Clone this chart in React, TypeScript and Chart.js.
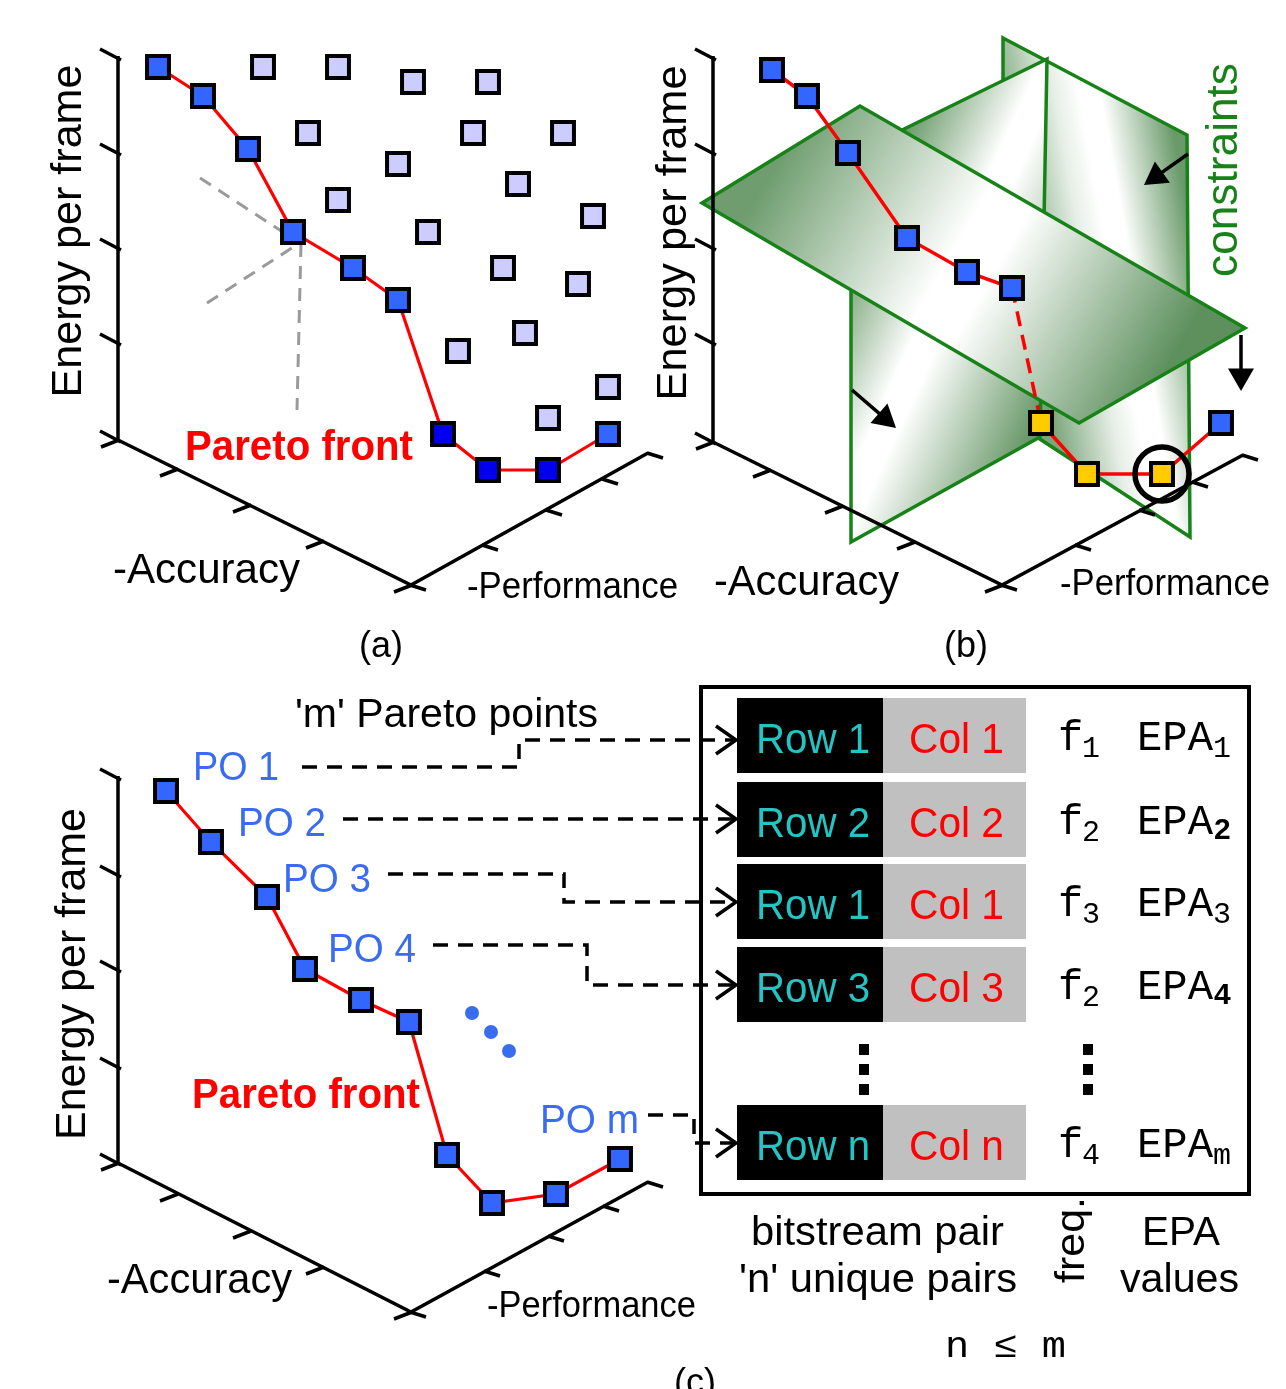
import React, { useEffect, useRef } from 'react';
import { Chart, registerables } from 'chart.js';

Chart.register(...registerables);

const W = 1286;
const H = 1389;
type P = [number, number];

// ---------- panel (a) ----------
const axesA: P[] = [[118, 56], [118, 440], [411, 585], [648, 453]];
const vTicksA: P[] = [[118, 58], [118, 153], [118, 248], [118, 343], [118, 440]];
const accTicksA: P[] = [[118, 440], [177, 469], [250, 505], [323, 541], [411, 585]];
const perfTicksA: P[] = [[411, 585], [483, 545], [547, 510], [603, 479], [648, 453]];
const paretoA: P[] = [[158, 67], [203, 96], [248, 149], [293, 232], [353, 268], [398, 300], [443, 434], [488, 470], [548, 470], [608, 434]];
const paretoAColors = ['#3366ff', '#3366ff', '#3366ff', '#3366ff', '#3366ff', '#3366ff', '#0000ee', '#0000ee', '#0000ee', '#3366ff'];
const dominatedA: P[] = [[263, 67], [338, 67], [413, 82], [488, 82], [308, 133], [473, 133], [563, 133], [398, 164], [518, 184], [338, 200], [593, 216], [428, 232], [503, 268], [578, 284], [525, 333], [458, 351], [608, 387], [548, 418]];
const guidesA: P[][] = [[[200, 178], [298, 242]], [[207, 303], [298, 244]], [[301, 244], [297, 410]]];

// ---------- panel (b) ----------
const axesB: P[] = [[713, 56], [713, 442], [1002, 585], [1243, 455]];
const vTicksB: P[] = [[713, 58], [713, 153], [713, 248], [713, 343], [713, 442]];
const accTicksB: P[] = [[713, 442], [770, 470], [842, 506], [914, 542], [1002, 585]];
const perfTicksB: P[] = [[1002, 585], [1076, 545], [1140, 510], [1193, 482], [1243, 455]];
const frontB1: P[] = [[772, 70], [807, 96], [848, 153], [907, 238], [967, 272], [1012, 288]];
const frontBDash: P[] = [[1012, 288], [1041, 423]];
const frontB2: P[] = [[1041, 423], [1087, 474], [1162, 474], [1221, 423]];
const blueB: P[] = [[772, 70], [807, 96], [848, 153], [907, 238], [967, 272], [1012, 288], [1221, 423]];
const yellowB: P[] = [[1041, 423], [1087, 474], [1162, 474]];
const chosenB: P[] = [[1162, 474]];
const wallR: P[] = [[1003, 38], [1187, 135], [1190, 537], [1003, 415]];
const wallL: P[] = [[851, 155], [1047, 59], [1040, 437], [851, 542]];
const tiltPlane: P[] = [[702, 203], [860, 106], [1245, 328], [1079, 423]];
const arrowsB: [P, P][] = [[[1188, 154], [1144, 185]], [[1241, 335], [1241, 391]], [[852, 390], [896, 428]]];

// ---------- panel (c) ----------
const axesC: P[] = [[118, 776], [118, 1163], [411, 1312], [648, 1182]];
const vTicksC: P[] = [[118, 778], [118, 875], [118, 970], [118, 1067], [118, 1163]];
const accTicksC: P[] = [[118, 1163], [177, 1194], [250, 1231], [323, 1267], [411, 1312]];
const perfTicksC: P[] = [[411, 1312], [485, 1271], [549, 1236], [604, 1206], [648, 1182]];
const paretoC: P[] = [[166, 791], [211, 842], [267, 897], [305, 969], [361, 1000], [409, 1022], [447, 1155], [492, 1203], [556, 1194], [620, 1159]];
const moreDotsC: P[] = [[472, 1013], [491, 1032], [509, 1051]];
const connectors: P[][] = [
  [[302, 767], [519, 767], [519, 740], [733, 740]],
  [[343, 819], [733, 819]],
  [[388, 874], [564, 874], [564, 902], [733, 902]],
  [[433, 945], [587, 945], [587, 985], [733, 985]],
  [[648, 1115], [694, 1115], [694, 1143], [733, 1143]],
];
const connectorTips: P[] = [[736, 740], [736, 819], [736, 902], [736, 985], [736, 1143]];
const rowLabels = ['Row 1', 'Row 2', 'Row 1', 'Row 3', 'Row n'];
const colLabels = ['Col 1', 'Col 2', 'Col 1', 'Col 3', 'Col n'];
const freqSubs = ['1', '2', '3', '2', '4'];
const epaSubs = ['1', '2', '3', '4', 'm'];
const epaSubBold = [false, true, false, true, false];
const rowTops = [698, 782, 864, 947, 1105];
const ellipsisTops = [1044, 1064, 1084];

const RED = '#ff0000';
const BLUE_TXT = '#3a6cf0';
const GREEN = '#178217';
const CYAN = '#22c4c4';
const SANS = '"Liberation Sans", Arial, Helvetica, sans-serif';
const MONO = '"Liberation Mono", "DejaVu Sans Mono", monospace';

type T = { t: string; x: number; y: number; s: number; w?: number; c?: string; b?: boolean; f?: 'mono' | 'sans'; r?: number; a?: CanvasTextAlign };

function buildTexts(): T[] {
  const out: T[] = [
    { t: 'Energy per frame', x: 81, y: 231, w: 333, s: 42, r: -90, a: 'center' },
    { t: 'Pareto front', x: 185, y: 460, w: 228, s: 42, c: RED, b: true },
    { t: '-Accuracy', x: 113, y: 583, w: 187, s: 42 },
    { t: '-Performance', x: 467, y: 598, w: 211, s: 36 },
    { t: '(a)', x: 381, y: 657, s: 36, a: 'center' },
    { t: 'Energy per frame', x: 686, y: 233, w: 335, s: 42, r: -90, a: 'center' },
    { t: 'constraints', x: 1237, y: 170, w: 214, s: 44, c: GREEN, r: -90, a: 'center' },
    { t: '-Accuracy', x: 714, y: 595, w: 185, s: 42 },
    { t: '-Performance', x: 1060, y: 595, w: 210, s: 36 },
    { t: '(b)', x: 966, y: 657, s: 36, a: 'center' },
    { t: "'m' Pareto points", x: 295, y: 727, w: 303, s: 41 },
    { t: 'PO 1', x: 193, y: 780, w: 86, s: 40, c: BLUE_TXT },
    { t: 'PO 2', x: 238, y: 836, w: 88, s: 40, c: BLUE_TXT },
    { t: 'PO 3', x: 283, y: 892, w: 88, s: 40, c: BLUE_TXT },
    { t: 'PO 4', x: 328, y: 962, w: 88, s: 40, c: BLUE_TXT },
    { t: 'PO m', x: 540, y: 1133, w: 99, s: 40, c: BLUE_TXT },
    { t: 'Pareto front', x: 192, y: 1108, w: 228, s: 42, c: RED, b: true },
    { t: 'Energy per frame', x: 85, y: 974, w: 332, s: 42, r: -90, a: 'center' },
    { t: '-Accuracy', x: 107, y: 1293, w: 185, s: 42 },
    { t: '-Performance', x: 487, y: 1317, w: 209, s: 36 },
    { t: '(c)', x: 695, y: 1394, s: 36, a: 'center' },
    { t: 'bitstream pair', x: 751, y: 1245, w: 253, s: 40 },
    { t: "'n' unique pairs", x: 739, y: 1292, w: 278, s: 40 },
    { t: 'freq.', x: 1084, y: 1240, w: 86, s: 40, r: -90, a: 'center' },
    { t: 'EPA', x: 1142, y: 1245, w: 78, s: 40 },
    { t: 'values', x: 1120, y: 1292, w: 119, s: 40 },
    { t: 'n \u2264 m', x: 945, y: 1357, w: 121, s: 36, f: 'mono' },
  ];
  rowTops.forEach((top, i) => {
    out.push({ t: rowLabels[i], x: 756, y: top + 55, w: 114, s: 42, c: CYAN });
    out.push({ t: colLabels[i], x: 909, y: top + 55, w: 95, s: 42, c: RED });
    out.push({ t: 'f', x: 1058, y: top + 52, s: 42, f: 'mono' });
    out.push({ t: freqSubs[i], x: 1082, y: top + 59, s: 30, f: 'mono' });
    out.push({ t: 'EPA', x: 1137, y: top + 52, w: 76, s: 42, f: 'mono' });
    out.push(epaSubBold[i]
      ? { t: epaSubs[i], x: 1214, y: top + 57, s: 30, b: true }
      : { t: epaSubs[i], x: 1213, y: top + 59, s: 30, f: 'mono' });
  });
  return out;
}

const xy = (p: P | null) => (p ? { x: p[0], y: p[1] } : { x: null, y: null });

function lineDs(points: (P | null)[], color: string, width: number, dash: number[] = []) {
  return {
    data: points.map(xy),
    showLine: true,
    borderColor: color,
    borderWidth: width,
    borderDash: dash,
    borderJoinStyle: 'miter',
    pointRadius: 0,
    pointHoverRadius: 0,
    fill: false,
    spanGaps: false,
    tension: 0,
    clip: false,
  };
}

function markerDs(points: P[], fill: string | string[], style: string, radius: number, bw: number) {
  return {
    data: points.map(xy),
    showLine: false,
    pointStyle: style,
    pointRadius: radius,
    pointHoverRadius: radius,
    pointBackgroundColor: fill,
    pointBorderColor: '#000',
    pointBorderWidth: bw,
    clip: false,
  };
}

function strokes(anchors: P[], d1: P, d2: P): (P | null)[] {
  const out: (P | null)[] = [];
  anchors.forEach(([x, y]) => {
    out.push([x + d1[0], y + d1[1]], [x + d2[0], y + d2[1]], null);
  });
  return out;
}

function buildDatasets() {
  const ds: any[] = [];
  [axesA, axesB, axesC].forEach((a) => ds.push(lineDs(a, '#000', 3.5)));
  const ticks: (P | null)[] = [
    ...strokes(vTicksA, [-18, -9], [3, 2]),
    ...strokes(vTicksB, [-18, -9], [3, 2]),
    ...strokes(vTicksC, [-18, -9], [3, 2]),
    ...strokes(accTicksA, [-17, 7], [1, 0]),
    ...strokes(accTicksB, [-17, 7], [1, 0]),
    ...strokes(accTicksC, [-17, 7], [1, 0]),
    ...strokes(perfTicksA, [-1, 0], [15, 5]),
    ...strokes(perfTicksB, [-1, 0], [15, 5]),
    ...strokes(perfTicksC, [-1, 0], [15, 5]),
  ];
  ds.push(lineDs(ticks, '#000', 3.5));
  guidesA.forEach((g) => ds.push(lineDs(g, '#9a9a9a', 3, [13, 9])));
  ds.push(lineDs(paretoA, RED, 3.2));
  ds.push(lineDs(frontB1, RED, 3.5));
  ds.push(lineDs(frontBDash, RED, 3.5, [15, 9]));
  ds.push(lineDs(frontB2, RED, 3.5));
  ds.push(lineDs(paretoC, RED, 3.2));
  connectors.forEach((c) => ds.push(lineDs(c, '#000', 3.5, [15, 10])));
  connectorTips.forEach(([x, y]) => ds.push(lineDs([[x - 20, y - 14], [x, y], [x - 20, y + 14]], '#000', 3.5)));
  ds.push(markerDs(dominatedA, '#ccccff', 'rect', 15.5, 4));
  ds.push(markerDs(paretoA, paretoAColors, 'rect', 15.5, 4));
  ds.push(markerDs(blueB, '#3366ff', 'rect', 15.5, 4));
  ds.push(markerDs(yellowB, '#ffcc00', 'rect', 15.5, 4));
  ds.push(markerDs(paretoC, '#3366ff', 'rect', 15.5, 4));
  ds.push({ ...markerDs(moreDotsC, BLUE_TXT, 'circle', 7, 0), pointBorderColor: BLUE_TXT });
  ds.push({ ...markerDs(chosenB, 'rgba(0,0,0,0)', 'circle', 27, 5.5) });
  const R = 15;
  arrowsB.forEach(([from, tip]) => {
    const dx = tip[0] - from[0];
    const dy = tip[1] - from[1];
    const L = Math.hypot(dx, dy);
    const ux = dx / L;
    const uy = dy / L;
    const c: P = [tip[0] - R * ux, tip[1] - R * uy];
    ds.push(lineDs([from, c], '#000', 3.5));
    ds.push({
      ...markerDs([c], '#000', 'triangle', R, 0),
      pointRotation: (Math.atan2(ux, -uy) * 180) / Math.PI,
    });
  });
  const n = ds.length;
  ds.forEach((d, i) => (d.order = n - i));
  return ds;
}

const diagramPlugin = {
  id: 'diagram',
  beforeDatasetsDraw(chart: any) {
    const ctx: CanvasRenderingContext2D = chart.ctx;
    const X = (v: number) => chart.scales.x.getPixelForValue(v);
    const Y = (v: number) => chart.scales.y.getPixelForValue(v);
    const planes: { poly: P[]; g: [P, P]; stops: [number, string][] }[] = [
      { poly: wallR, g: [[1006, 167], [1174, 137]], stops: [[0, '#7aa57a'], [0.35, '#e6eee6'], [0.5, '#ffffff'], [0.62, '#ffffff'], [1, '#6a9a6a']] },
      { poly: wallL, g: [[940, 54], [1167, 159]], stops: [[0, '#6a9a6a'], [0.38, '#ffffff'], [0.48, '#ffffff'], [1, '#5f915f']] },
      { poly: tiltPlane, g: [[781, 155], [1162, 376]], stops: [[0, '#6f9d6f'], [0.45, '#ffffff'], [0.55, '#ffffff'], [1, '#5e905e']] },
    ];
    planes.forEach((pl) => {
      ctx.save();
      const grad = ctx.createLinearGradient(X(pl.g[0][0]), Y(pl.g[0][1]), X(pl.g[1][0]), Y(pl.g[1][1]));
      pl.stops.forEach(([o, c]) => grad.addColorStop(o, c));
      ctx.beginPath();
      pl.poly.forEach(([x, y], i) => (i ? ctx.lineTo(X(x), Y(y)) : ctx.moveTo(X(x), Y(y))));
      ctx.closePath();
      ctx.fillStyle = grad;
      ctx.fill();
      ctx.strokeStyle = GREEN;
      ctx.lineWidth = 3.5;
      ctx.lineJoin = 'miter';
      ctx.stroke();
      ctx.restore();
    });
    ctx.save();
    ctx.strokeStyle = '#000';
    ctx.lineWidth = 4;
    ctx.strokeRect(X(701), Y(687), X(1249) - X(701), Y(1194) - Y(687));
    rowTops.forEach((top) => {
      ctx.fillStyle = '#000';
      ctx.fillRect(X(737), Y(top), X(883) - X(737), Y(top + 75) - Y(top));
      ctx.fillStyle = '#c0c0c0';
      ctx.fillRect(X(883), Y(top), X(1026) - X(883), Y(top + 75) - Y(top));
    });
    ctx.fillStyle = '#000';
    ellipsisTops.forEach((t) => {
      ctx.fillRect(X(859), Y(t), X(869) - X(859), Y(t + 11) - Y(t));
      ctx.fillRect(X(1083), Y(t), X(1093) - X(1083), Y(t + 11) - Y(t));
    });
    ctx.restore();
  },
  afterDatasetsDraw(chart: any) {
    const ctx: CanvasRenderingContext2D = chart.ctx;
    const X = (v: number) => chart.scales.x.getPixelForValue(v);
    const Y = (v: number) => chart.scales.y.getPixelForValue(v);
    buildTexts().forEach((t) => {
      ctx.save();
      ctx.font = `${t.b ? 'bold ' : ''}${t.s}px ${t.f === 'mono' ? MONO : SANS}`;
      ctx.fillStyle = t.c || '#000';
      ctx.textBaseline = 'alphabetic';
      ctx.textAlign = t.a || 'left';
      const m = ctx.measureText(t.t).width;
      const sx = t.w ? t.w / m : 1;
      ctx.translate(X(t.x), Y(t.y));
      if (t.r) ctx.rotate((t.r * Math.PI) / 180);
      ctx.scale(sx, 1);
      ctx.fillText(t.t, 0, 0);
      ctx.restore();
    });
  },
};

export default function App() {
  const ref = useRef<HTMLCanvasElement>(null);
  useEffect(() => {
    if (!ref.current) return;
    const chart = new Chart(ref.current, {
      type: 'scatter',
      data: { datasets: buildDatasets() as any },
      options: {
        responsive: false,
        maintainAspectRatio: false,
        devicePixelRatio: 1,
        animation: false,
        events: [],
        layout: { padding: 0, autoPadding: false },
        scales: {
          x: { type: 'linear', min: 0, max: W, display: false },
          y: { type: 'linear', min: 0, max: H, reverse: true, display: false },
        },
        plugins: { legend: { display: false }, tooltip: { enabled: false }, title: { display: false } },
      } as any,
      plugins: [diagramPlugin as any],
    });
    return () => chart.destroy();
  }, []);
  return (
    <canvas
      ref={ref}
      width={W}
      height={H}
      style={{ position: 'absolute', left: 0, top: 0, width: W, height: H, background: '#fff' }}
    />
  );
}
